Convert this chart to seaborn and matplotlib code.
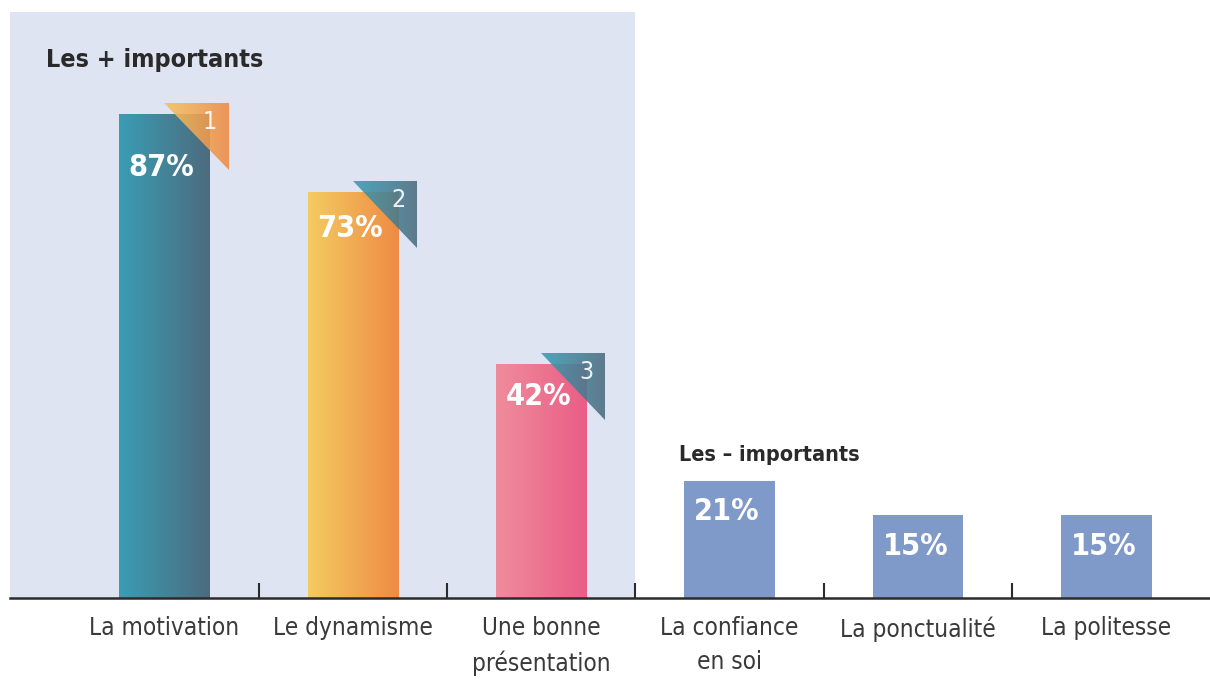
import matplotlib
matplotlib.use("Agg")
import matplotlib.pyplot as plt
from matplotlib import font_manager
from matplotlib.colors import LinearSegmentedColormap
from matplotlib.patches import Polygon
from matplotlib.ticker import FixedLocator
import numpy as np
import pandas as pd
import seaborn as sns

# ---- data ----
categories = ["La motivation", "Le dynamisme", "Une bonne\nprésentation",
              "La confiance\nen soi", "La ponctualité", "La politesse"]
values = [87, 73, 42, 21, 15, 15]
value_labels = ["87%", "73%", "42%", "21%", "15%", "15%"]
ranks = ["1", "2", "3"]

# gradient colours (left -> right) per bar
bar_gradients = [("#3A9DB4", "#4D6B7E"), ("#F4CB60", "#EE8B45"), ("#EF8C9C", "#EA5D86"),
                 ("#7F99C8", "#7F99C8"), ("#7F99C8", "#7F99C8"), ("#7F99C8", "#7F99C8")]
badge_gradients = [("#F5C35E", "#EE8A45"), ("#3A9DB4", "#4D6B7E"), ("#3A9DB4", "#4D6B7E")]

sns.set_theme(style="white")

# pick a narrow face if one is installed
narrow = None
for f in font_manager.fontManager.ttflist:
    n = f.name.lower()
    if "narrow" in n or "condensed" in n or f.stretch in ("condensed", "semi-condensed"):
        narrow = f
        break
if narrow is not None:
    plt.rcParams["font.family"] = [narrow.name, "DejaVu Sans"]
    plt.rcParams["font.stretch"] = "condensed"
else:
    plt.rcParams["font.family"] = ["DejaVu Sans"]

df = pd.DataFrame({"cat": categories, "val": values})

fig = plt.figure(figsize=(12.1, 6.82), dpi=100)
ax = fig.add_axes([10 / 1210, 84 / 682, 1200 / 1210, 586 / 682])

xmin, xmax = -0.82, 5.55

palette = {c: g[0] for c, g in zip(categories, bar_gradients)}
sns.barplot(data=df, x="cat", y="val", hue="cat", order=categories, palette=palette,
            width=0.48, legend=False, ax=ax, saturation=1, zorder=2)
bars = sorted(ax.patches, key=lambda p: p.get_x())
ax.set_xlim(xmin, xmax)
ax.set_ylim(0, 105.4)

# light panel behind the "most important" group
ax.axvspan(xmin, 2.5, color="#DFE4F2", zorder=0, lw=0)


def gradient_fill(ax, patch, c0, c1, extent, alpha=1.0, zorder=3):
    cmap = LinearSegmentedColormap.from_list("g", [c0, c1])
    grad = np.linspace(0, 1, 256).reshape(1, -1)
    im = ax.imshow(grad, cmap=cmap, extent=extent, aspect="auto",
                   origin="lower", alpha=alpha, zorder=zorder)
    im.set_clip_path(patch)
    return im


label_offsets = [-53, -36, -32, -30, -32, -32]  # px below bar top
for i, (bar, (c0, c1)) in enumerate(zip(bars, bar_gradients)):
    x0, w, h = bar.get_x(), bar.get_width(), bar.get_height()
    bar.set_edgecolor("none")
    if c0 != c1:
        gradient_fill(ax, bar, c0, c1, [x0, x0 + w, 0, h])
    ax.annotate(value_labels[i], (x0 + w / 2, h), xytext=(-2, label_offsets[i] * 0.72),
                textcoords="offset points", ha="center", va="center",
                color="white", fontsize=22, fontweight="bold", zorder=6)

# rank badges (right triangles hanging off the top-right of the first bars)
for i, (rank, (c0, c1)) in enumerate(zip(ranks, badge_gradients)):
    bar = bars[i]
    xc = bar.get_x() + bar.get_width() / 2
    top = bar.get_height() + 2.0
    xr = xc + 0.34
    tri = Polygon([[xc, top], [xr, top], [xr, top - 12.0]], closed=True,
                  facecolor="none", edgecolor="none", zorder=4)
    ax.add_patch(tri)
    gradient_fill(ax, tri, c0, c1, [xc, xr, top - 12.0, top], alpha=0.88, zorder=4)
    ax.text(xr - 0.1, top - 3.4, rank, ha="center", va="center", color="white",
            alpha=0.9, fontsize=18, fontweight="light", zorder=6)

# group titles
ax.text(-0.63, 96.8, "Les + importants", ha="left", va="center",
        fontsize=18, fontweight="bold", color="#2a2a2a")
ax.text(2.73, 25.7, "Les – importants", ha="left", va="center",
        fontsize=15.5, fontweight="bold", color="#2a2a2a")

# axes styling
ax.set_xlabel("")
ax.set_ylabel("")
ax.set_yticks([])
for s in ["left", "top", "right"]:
    ax.spines[s].set_visible(False)
ax.spines["bottom"].set_color("#2b2b2b")
ax.spines["bottom"].set_linewidth(1.8)
ax.spines["bottom"].set_zorder(5)

ax.set_xticks(range(len(categories)))
ax.set_xticklabels(categories, fontsize=17.5, color="#3a3a3a", linespacing=1.5, va="top")
ax.tick_params(axis="x", which="major", length=0, pad=13)
ax.xaxis.set_minor_locator(FixedLocator([0.5, 1.5, 2.5, 3.5, 4.5]))
ax.tick_params(axis="x", which="minor", direction="in", length=11, width=1.5,
               color="#2b2b2b", bottom=True)

fig.savefig("out.png", dpi=100)
